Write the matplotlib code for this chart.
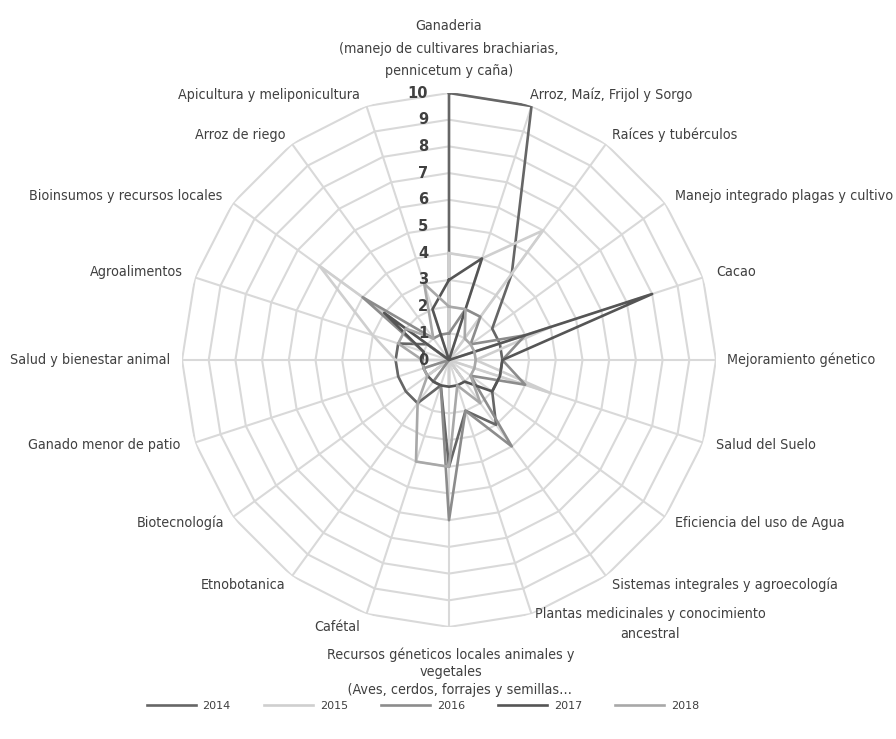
import numpy as np
import matplotlib
matplotlib.use("Agg")
from matplotlib import pyplot as plt

categories = [
    "Ganaderia\n(manejo de cultivares brachiarias,\npennicetum y caña)",
    "Arroz, Maíz, Frijol y Sorgo",
    "Raíces y tubérculos",
    "Manejo integrado plagas y cultivo",
    "Cacao",
    "Mejoramiento génetico",
    "Salud del Suelo",
    "Eficiencia del uso de Agua",
    "Sistemas integrales y agroecología",
    "Plantas medicinales y conocimiento\nancestral",
    "Recursos géneticos locales animales y\nvegetales\n    (Aves, cerdos, forrajes y semillas…",
    "Cafétal",
    "Etnobotanica",
    "Biotecnología",
    "Ganado menor de patio",
    "Salud y bienestar animal",
    "Agroalimentos",
    "Bioinsumos y recursos locales",
    "Arroz de riego",
    "Apicultura y meliponicultura",
]
years = ["2014", "2015", "2016", "2017", "2018"]
v2014 = [10, 10, 4, 2, 2, 2, 2, 2, 3, 2, 4, 1, 2, 2, 2, 2, 2, 1, 0, 0]
v2015 = [4, 4, 6, 0, 4, 1, 4, 0, 1, 0, 1, 0, 0, 1, 0, 2, 3, 6, 0, 0]
v2016 = [1, 2, 2, 1, 3, 2, 3, 1, 4, 2, 6, 1, 1, 0, 1, 1, 1, 4, 1, 1]
v2017 = [3, 4, 0, 0, 8, 2, 2, 2, 1, 1, 1, 1, 1, 1, 1, 1, 1, 3, 0, 2]
v2018 = [2, 2, 1, 1, 1, 1, 1, 1, 2, 1, 4, 4, 2, 1, 1, 1, 2, 2, 1, 3]
rticks = list(range(0, 11))

colors = ["#666666", "#cfcfcf", "#8c8c8c", "#555555", "#a8a8a8"]
W, H = 896, 739

def fx(x):
    return x / W

def fy(y):
    return 1 - y / H

fig = plt.figure(figsize=(W / 100, H / 100), dpi=100)
cx, cy, R = 449, 360, 267
ax = fig.add_axes([fx(cx - R), fy(cy + R), 2 * R / W, 2 * R / H], projection="polar")
ax.set_theta_zero_location("N")
ax.set_theta_direction(-1)
ax.set_ylim(0, 10)
ax.axis("off")

n = len(categories)
angles = np.arange(n) * 2 * np.pi / n
closed = np.append(angles, angles[0])

# polygon grid and spokes
for r in rticks[1:]:
    ax.plot(closed, [r] * (n + 1), color="#d9d9d9", lw=1.5, zorder=1)
for a in angles:
    ax.plot([a, a], [0, 10], color="#d9d9d9", lw=1.5, zorder=1)

for r in rticks:
    ax.annotate(str(r), xy=(0, r), xytext=(-15, 0), textcoords="offset points",
                ha="right", va="center", fontsize=10.5, fontweight="bold",
                color="#404040", family="DejaVu Sans", zorder=5)

series = [v2014, v2015, v2016, v2017, v2018]
for yr, vals, c in zip(years, series, colors):
    ax.plot(closed, vals + vals[:1], color=c, lw=1.9, label=yr, zorder=3)

lab = dict(fontsize=10.3, color="#404040", family="DejaVu Sans", fontstretch="condensed")
# label anchor positions (pixels) and alignment
pos = [
    (449, 78, "center", "bottom", 1.75),
    (530, 95, "left", "center", 1.4),
    (612, 135, "left", "center", 1.4),
    (675, 196, "left", "center", 1.4),
    (716, 272, "left", "center", 1.4),
    (727, 360, "left", "center", 1.4),
    (716, 445, "left", "center", 1.4),
    (675, 523, "left", "center", 1.4),
    (612, 585, "left", "center", 1.4),
    (650, 607, "center", "top", 1.55),
    (451, 647, "center", "top", 1.35),
    (360, 627, "right", "center", 1.4),
    (285, 585, "right", "center", 1.4),
    (224, 523, "right", "center", 1.4),
    (180, 445, "right", "center", 1.4),
    (170, 360, "right", "center", 1.4),
    (183, 272, "right", "center", 1.4),
    (222, 196, "right", "center", 1.4),
    (285, 135, "right", "center", 1.4),
    (360, 95, "right", "center", 1.4),
]
for text, (x, y, ha, va, ls) in zip(categories, pos):
    fig.text(fx(x), fy(y), text, ha=ha, va=va, multialignment="center",
             linespacing=ls, **lab)

handles, labels = ax.get_legend_handles_labels()
fig.legend(handles, labels, loc="center", bbox_to_anchor=(fx(423), fy(706)), ncol=5,
           frameon=False, handlelength=4.4, columnspacing=3.0, handletextpad=0.6,
           prop={"size": 8, "family": "DejaVu Sans"}, labelcolor="#404040")

fig.savefig("out.png", dpi=100)
